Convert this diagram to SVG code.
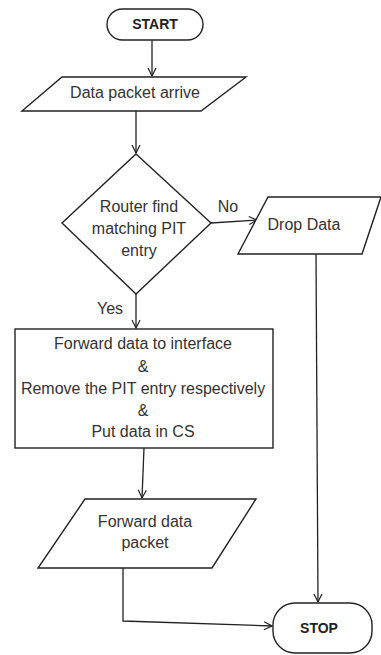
<svg xmlns="http://www.w3.org/2000/svg" width="381" height="655" viewBox="0 0 381 655">
<defs>
<marker id="ah" markerWidth="10" markerHeight="10" refX="9" refY="5" orient="auto" markerUnits="userSpaceOnUse">
<path d="M1,1 L9,5 L1,9" fill="none" stroke="#222" stroke-width="1.2"/>
</marker>
<style>
.s{fill:#fff;stroke:#222;stroke-width:1.4}
.t{font-family:"Liberation Sans",Arial,sans-serif;font-size:16px;fill:#333;text-anchor:middle}
.b{font-weight:bold;fill:#222;font-size:14px}
.c{fill:none;stroke:#222;stroke-width:1.3;marker-end:url(#ah)}
</style>
</defs>
<rect width="381" height="655" fill="#fff"/>
<g id="connectors">
<path class="c" d="M152,40 L152,76"/>
<path class="c" d="M136,111 L136,153"/>
<path class="c" d="M211,223 L257,220"/>
<path class="c" d="M136,294 L136,328"/>
<path class="c" d="M144,448 L142,498"/>
<path class="c" d="M316,254 L318,602"/>
<path class="c" d="M123,568 L123,621 L272,626"/>
</g>
<g id="start">
<rect class="s" x="107" y="9" width="96" height="31" rx="15.5"/>
<text class="t b" x="155" y="29">START</text>
</g>
<g id="arrive">
<polygon class="s" points="62,77 246,77 201,111 22,111"/>
<text class="t" x="135" y="98">Data packet arrive</text>
</g>
<g id="decision">
<polygon class="s" points="136,154 211,223 136,294 62,223"/>
<text class="t" x="139" y="212">Router find</text>
<text class="t" x="139" y="234">matching PIT</text>
<text class="t" x="139" y="256">entry</text>
</g>
<text class="t" x="228" y="212">No</text>
<text class="t" x="110" y="314">Yes</text>
<g id="drop">
<polygon class="s" points="268,197 381,197 362,254 238,254"/>
<text class="t" x="304" y="230">Drop Data</text>
</g>
<g id="process">
<rect class="s" x="15" y="329" width="258" height="119"/>
<text class="t" x="143" y="349">Forward data to interface</text>
<text class="t" x="143" y="372">&amp;</text>
<text class="t" x="143" y="394">Remove the PIT entry respectively</text>
<text class="t" x="143" y="416">&amp;</text>
<text class="t" x="143" y="437">Put data in CS</text>
</g>
<g id="forward">
<polygon class="s" points="85,499 256,499 212,568 38,568"/>
<text class="t" x="145" y="527">Forward data</text>
<text class="t" x="145" y="548">packet</text>
</g>
<g id="stop">
<rect class="s" x="273" y="603" width="99" height="50" rx="22"/>
<text class="t b" x="319" y="633">STOP</text>
</g>
</svg>
